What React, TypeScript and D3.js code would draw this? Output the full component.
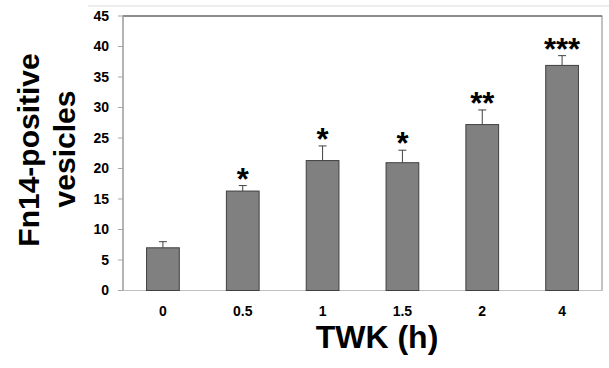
import React from "react";
import * as d3 from "d3";

const categories = ["0", "0.5", "1", "1.5", "2", "4"];
const means = [7.0, 16.3, 21.3, 20.95, 27.2, 36.9];
const errors = [1.0, 0.9, 2.4, 2.05, 2.4, 1.6];
const stars = ["", "*", "*", "*", "**", "***"];
const yTicks = [0, 5, 10, 15, 20, 25, 30, 35, 40, 45];

const W = 609;
const H = 368;
const left = 123;
const right = 602;
const top = 16;
const bottom = 290.5;

export default function App() {
  const x = d3.scaleBand<string>().domain(categories).range([left, right]).paddingInner(0.59).paddingOuter(0.295);
  const y = d3.scaleLinear().domain([0, 45]).range([bottom, top]);
  const font = "'Liberation Sans', Arial, sans-serif";
  return (
    <svg width={W} height={H} style={{ position: "fixed", left: 0, top: 0, background: "#fff" }}>
      <line x1={88} x2={609} y1={6} y2={6} stroke="#d9d9d9" strokeWidth={1} />
      <rect x={left} y={top} width={right - left} height={bottom - top} fill="none" stroke="#868686" strokeWidth={1} />
      <line x1={left} x2={right} y1={top} y2={top} stroke="#595959" strokeWidth={1} />
      <line x1={left} x2={right} y1={bottom} y2={bottom} stroke="#bfbfbf" strokeWidth={1.2} />
      <line x1={left} x2={left} y1={top} y2={bottom} stroke="#a6a6a6" strokeWidth={1} />
      {yTicks.map((t) => (
        <g key={t}>
          <line x1={left - 5} x2={left} y1={y(t)} y2={y(t)} stroke="#a6a6a6" />
          <text x={109} y={y(t)} dy="0.35em" textAnchor="end" fontFamily={font} fontWeight="bold" fontSize={14} fill="#000">
            {t}
          </text>
        </g>
      ))}
      {categories.map((c, i) => {
        const bx = x(c)!;
        const bw = x.bandwidth();
        const cx = bx + bw / 2;
        const eTop = y(means[i] + errors[i]);
        return (
          <g key={c}>
            <line x1={cx} x2={cx} y1={y(means[i])} y2={eTop} stroke="#404040" strokeWidth={1} />
            <line x1={cx - 4} x2={cx + 4} y1={eTop} y2={eTop} stroke="#404040" strokeWidth={1} />
            <rect x={bx} y={y(means[i])} width={bw} height={bottom - y(means[i])} fill="#808080" stroke="#3f3f3f" strokeWidth={1} />
            {stars[i] && (
              <text x={cx} y={eTop + 4} textAnchor="middle" fontFamily={font} fontWeight="bold" fontSize={31} fill="#000">
                {stars[i]}
              </text>
            )}
            <text x={cx} y={315.5} textAnchor="middle" fontFamily={font} fontWeight="bold" fontSize={14} fill="#000">
              {c}
            </text>
          </g>
        );
      })}
      <text x={377} y={347.5} textAnchor="middle" fontFamily={font} fontWeight="bold" fontSize={32} fill="#000">
        TWK (h)
      </text>
      <text transform="translate(38.5,150) rotate(-90)" textAnchor="middle" fontFamily={font} fontWeight="bold" fontSize={30} fill="#000">
        Fn14-positive
      </text>
      <text transform="translate(75,149) rotate(-90)" textAnchor="middle" fontFamily={font} fontWeight="bold" fontSize={30} fill="#000">
        vesicles
      </text>
    </svg>
  );
}
